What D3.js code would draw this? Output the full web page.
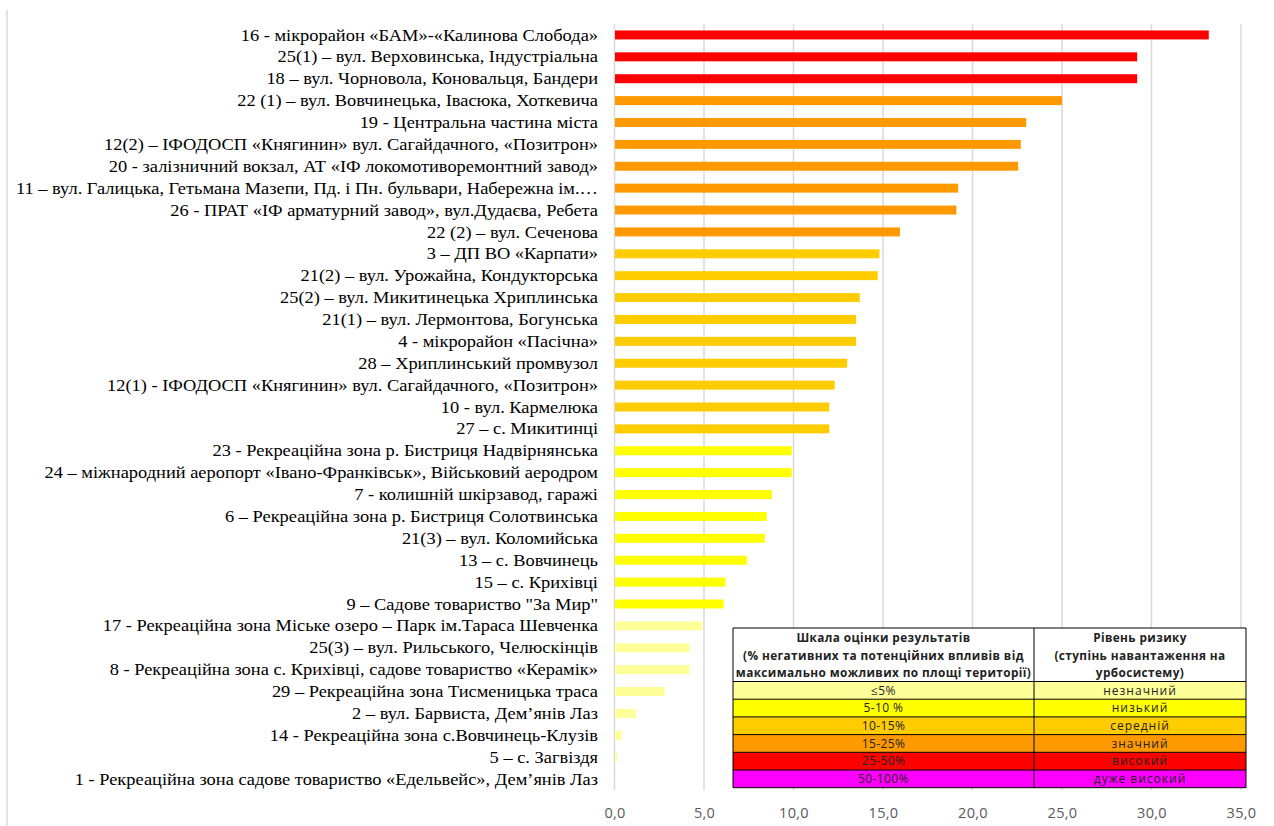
<!DOCTYPE html>
<html>
<head>
<meta charset="utf-8">
<script src="https://cdn.jsdelivr.net/npm/d3@7"></script>
<style>
  body { margin: 0; background: #fff; }
  svg { display: block; }
  .cat { font-family: "Liberation Serif", "Times New Roman", serif; font-size: 16px; fill: #000; }
  .tick-label { font-family: "Open Sans", sans-serif; font-size: 14.5px; fill: #595959; letter-spacing: 0.3px; }
  .tbl { font-family: "Open Sans", sans-serif; font-size: 12px; fill: #222; }
  .tbl.head { font-weight: bold; font-size: 11.8px; }
</style>
</head>
<body>
<svg id="chart" width="1274" height="826"></svg>
<script>
// categories, top to bottom
const categories = [
  '16 - мікрорайон «БАМ»-«Калинова Слобода»',
  '25(1) – вул. Верховинська, Індустріальна',
  '18 – вул. Чорновола, Коновальця, Бандери',
  '22 (1) – вул. Вовчинецька, Івасюка, Хоткевича',
  '19 - Центральна частина міста',
  '12(2) – ІФОДОСП «Княгинин» вул. Сагайдачного, «Позитрон»',
  '20 - залізничний вокзал, АТ «ІФ локомотиворемонтний завод»',
  '11 – вул. Галицька, Гетьмана Мазепи, Пд. і Пн. бульвари, Набережна ім.…',
  '26 - ПРАТ «ІФ арматурний завод», вул.Дудаєва,  Ребета',
  '22 (2) – вул. Сеченова',
  '3 – ДП ВО «Карпати»',
  '21(2) – вул. Урожайна, Кондукторська',
  '25(2) – вул. Микитинецька Хриплинська',
  '21(1) – вул. Лермонтова,  Богунська',
  '4 - мікрорайон «Пасічна»',
  '28 – Хриплинський промвузол',
  '12(1) - ІФОДОСП «Княгинин» вул. Сагайдачного, «Позитрон»',
  '10 - вул. Кармелюка',
  '27 – с. Микитинці',
  '23 - Рекреаційна зона р. Бистриця Надвірнянська',
  '24 – міжнародний аеропорт «Івано-Франківськ», Військовий аеродром',
  '7 - колишній шкірзавод, гаражі',
  '6 – Рекреаційна зона  р. Бистриця Солотвинська',
  '21(3) – вул. Коломийська',
  '13 – с. Вовчинець',
  '15 – с. Крихівці',
  '9 – Садове товариство "За Мир"',
  '17 - Рекреаційна зона Міське озеро – Парк ім.Тараса  Шевченка',
  '25(3) – вул. Рильського, Челюскінців',
  '8 - Рекреаційна зона с. Крихівці, садове товариство «Керамік»',
  '29 – Рекреаційна зона Тисменицька  траса',
  '2 – вул. Барвиста, Дем’янів Лаз',
  '14 - Рекреаційна зона с.Вовчинець-Клузів',
  '5 – с. Загвіздя',
  '1 - Рекреаційна зона садове товариство «Едельвейс», Дем’янів Лаз'
];

// % of negative impacts
const values = [
  33.2, 29.2, 29.2, 25.0, 23.0, 22.7, 22.55, 19.2, 19.1, 15.95,
  14.8, 14.7, 13.7, 13.5, 13.5, 13.0, 12.3, 12.0, 12.0, 9.9,
  9.9, 8.8, 8.5, 8.4, 7.4, 6.2, 6.1, 4.9, 4.2, 4.2,
  2.8, 1.2, 0.4, 0.15, 0
];

const xTicks = [0, 5, 10, 15, 20, 25, 30, 35];

// risk scale (legend table)
const levelBreaks = [5, 10, 15, 25, 50];
const levelRanges = ['≤5%', '5-10 %', '10-15%', '15-25%', '25-50%', '50-100%'];
const levelNames = ['незначний', 'низький', 'середній', 'значний', 'високий', 'дуже високий'];
const levelColors = ['#ffff99', '#ffff00', '#ffcc00', '#ff9900', '#ff0000', '#ff00ff'];
const tableHead1 = ['Шкала оцінки результатів', '(% негативних та потенційних впливів від', 'максимально можливих по площі території)'];
const tableHead2 = ['Рівень ризику', '(ступінь навантаження на', 'урбосистему)'];

const data = categories.map((c, i) => ({ name: c, value: values[i] }));

const svg = d3.select('#chart');

const x = d3.scaleLinear().domain([0, 35]).range([614.5, 1241]);
const y = d3.scaleBand()
  .domain(categories)
  .range([24, 790])
  .paddingInner(0.59)
  .paddingOuter(0.295);

// interval (a, b] -> level
const level = v => d3.bisectLeft(levelBreaks, v);

// outer frame edge
svg.append('line')
  .attr('x1', 7).attr('x2', 7)
  .attr('y1', 10).attr('y2', 826)
  .attr('stroke', '#d9d9d9').attr('stroke-width', 1.5);

// gridlines
svg.append('g')
  .selectAll('line')
  .data(xTicks)
  .join('line')
  .attr('x1', d => x(d)).attr('x2', d => x(d))
  .attr('y1', 24).attr('y2', 790)
  .attr('stroke', '#d9d9d9')
  .attr('stroke-width', 1.5);

// bars
svg.append('g')
  .selectAll('rect')
  .data(data)
  .join('rect')
  .attr('x', x(0) + 0.5)
  .attr('y', d => y(d.name))
  .attr('width', d => Math.max(0, x(d.value) - x(0) - 0.5))
  .attr('height', y.bandwidth())
  .attr('fill', d => levelColors[level(d.value)]);

// category labels
svg.append('g')
  .selectAll('text')
  .data(data)
  .join('text')
  .attr('class', 'cat')
  .attr('transform', d => `translate(598,${y(d.name) + y.bandwidth() / 2}) scale(1.15,1)`)
  .attr('dy', '0.35em')
  .attr('text-anchor', 'end')
  .text(d => d.name);

// x axis labels
const xAxis = d3.axisBottom(x)
  .tickValues(xTicks)
  .tickSize(0)
  .tickPadding(0)
  .tickFormat(d => d3.format('.1f')(d).replace('.', ','));
const ax = svg.append('g')
  .attr('transform', 'translate(0,808)')
  .call(xAxis);
ax.select('.domain').remove();
ax.selectAll('text').attr('class', 'tick-label').attr('fill', null).attr('font-family', null).attr('font-size', null);

// legend table
const tbl = svg.append('g');
const col = [733, 1034, 1246];
const headTop = 628, headH = 53.5, rowH = 17.7;

tbl.append('rect')
  .attr('x', col[0]).attr('y', headTop)
  .attr('width', col[2] - col[0]).attr('height', headH)
  .attr('fill', '#fff');

const rows = levelRanges.map((r, i) => ({ range: r, name: levelNames[i], color: levelColors[i] }));
const rowG = tbl.selectAll('g.row')
  .data(rows)
  .join('g')
  .attr('class', 'row')
  .attr('transform', (d, i) => `translate(0,${headTop + headH + i * rowH})`);
rowG.append('rect')
  .attr('x', col[0]).attr('width', col[2] - col[0])
  .attr('height', rowH)
  .attr('fill', d => d.color);
rowG.append('text')
  .attr('class', 'tbl')
  .attr('x', (col[0] + col[1]) / 2).attr('y', rowH / 2).attr('dy', '0.35em')
  .attr('text-anchor', 'middle')
  .style('letter-spacing', '0.4px')
  .text(d => d.range);
rowG.append('text')
  .attr('class', 'tbl')
  .attr('x', (col[1] + col[2]) / 2).attr('y', rowH / 2).attr('dy', '0.35em')
  .attr('text-anchor', 'middle')
  .style('letter-spacing', '1px')
  .text(d => d.name);

[tableHead1, tableHead2].forEach((lines, c) => {
  tbl.append('g')
    .selectAll('text')
    .data(lines)
    .join('text')
    .attr('class', 'tbl head')
    .attr('x', (col[c] + col[c + 1]) / 2)
    .attr('y', (d, i) => headTop + 10 + i * 17.5)
    .attr('dy', '0.35em')
    .attr('text-anchor', 'middle')
    .style('letter-spacing', '0.4px')
    .text(d => d);
});

// table grid lines
const hLines = [headTop, headTop + headH].concat(d3.range(1, 7).map(i => headTop + headH + i * rowH));
tbl.append('g')
  .selectAll('line')
  .data(hLines)
  .join('line')
  .attr('x1', col[0]).attr('x2', col[2])
  .attr('y1', d => d).attr('y2', d => d)
  .attr('stroke', '#000').attr('stroke-width', 1);
tbl.append('g')
  .selectAll('line')
  .data(col)
  .join('line')
  .attr('x1', d => d).attr('x2', d => d)
  .attr('y1', headTop).attr('y2', hLines[hLines.length - 1])
  .attr('stroke', '#000').attr('stroke-width', 1);
</script>
</body>
</html>
